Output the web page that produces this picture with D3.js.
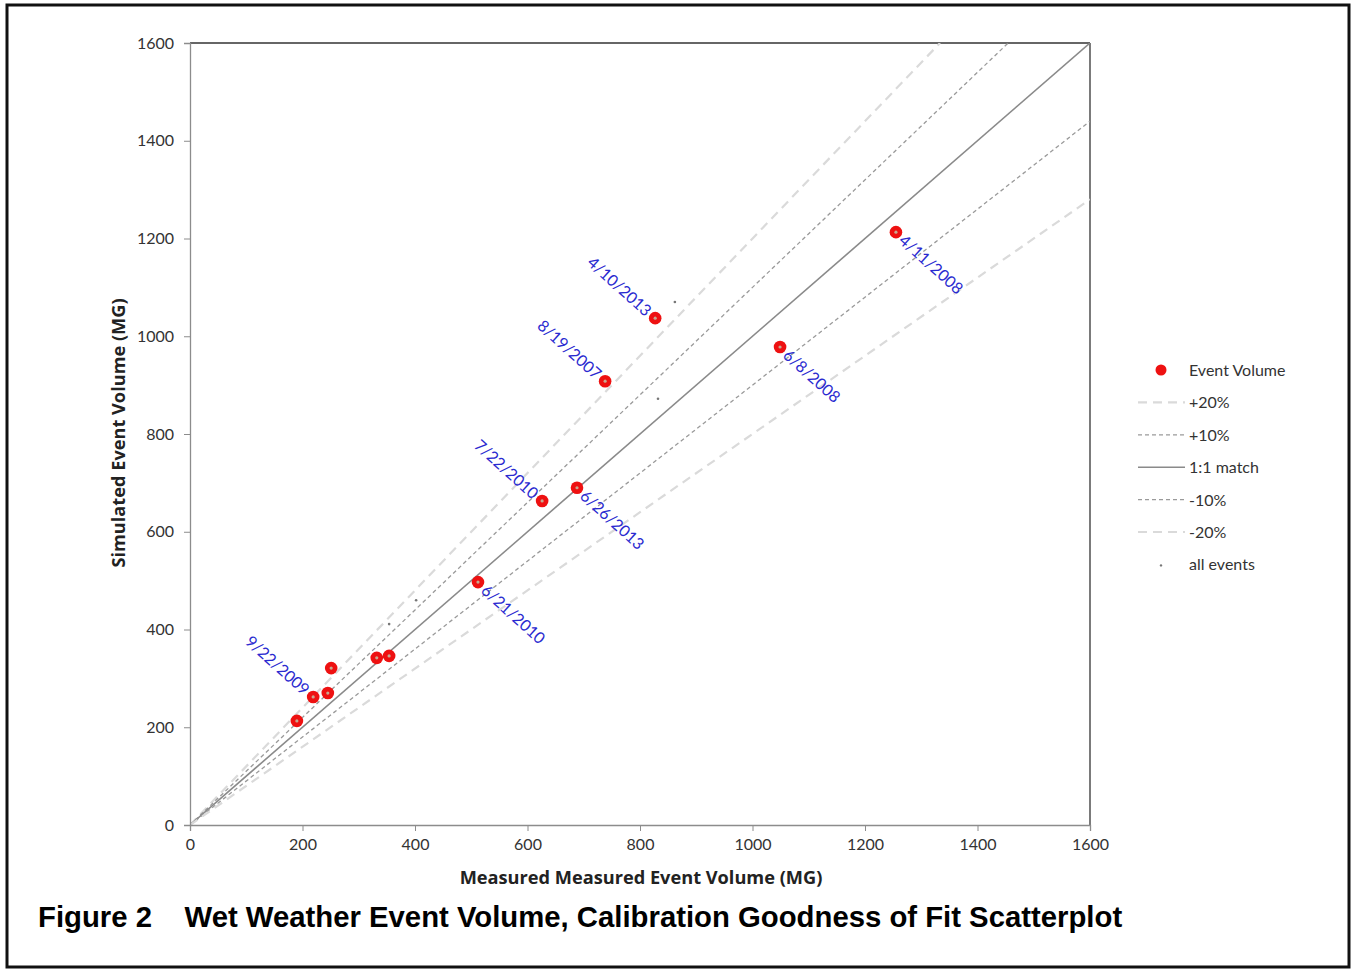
<!DOCTYPE html>
<html>
<head>
<meta charset="utf-8">
<script src="https://cdn.jsdelivr.net/npm/d3@7"></script>
<style>
  html, body { margin: 0; padding: 0; background: #fff; }
  svg { display: block; }
</style>
</head>
<body>
<svg id="chart" width="1354" height="970"></svg>
<script>
// Calibration events: measured vs simulated volume (MG)
const eventMeasured  = [190, 219, 245, 251, 332, 354, 512, 626, 688, 738, 827, 1049, 1255];
const eventSimulated = [213, 262, 270, 321, 342, 346, 497, 663, 690, 908, 1037, 978, 1213];
const eventLabels    = ["", "9/22/2009", "", "", "", "", "6/21/2010", "7/22/2010", "6/26/2013", "8/19/2007", "4/10/2013", "6/8/2008", "4/11/2008"];
const labelSide      = ["", "before", "", "", "", "", "after", "before", "after", "before", "before", "after", "after"];

// Additional events (small markers) not highlighted as calibration events
const otherMeasured  = [354, 402, 832, 862];
const otherSimulated = [411, 460, 872, 1070];

// Reference lines: ratio of simulated to measured
const refNames  = ["+20%", "+10%", "1:1 match", "-10%", "-20%"];
const refRatios = [1.2, 1.1, 1.0, 0.9, 0.8];

const axisTicks = [0, 200, 400, 600, 800, 1000, 1200, 1400, 1600];

const svg = d3.select("#chart");
const W = 1354, H = 970;
const plot = { left: 190, top: 43, width: 900, height: 782 };

svg.append("rect").attr("x", 0).attr("y", 0).attr("width", W).attr("height", H).attr("fill", "#fff");
// figure frame
svg.append("rect").attr("x", 7).attr("y", 5).attr("width", 1342).attr("height", 962)
  .attr("fill", "none").attr("stroke", "#111").attr("stroke-width", 3);

const x = d3.scaleLinear().domain([0, 1600]).range([plot.left, plot.left + plot.width]);
const y = d3.scaleLinear().domain([0, 1600]).range([plot.top + plot.height, plot.top]);

const tickFont = "Lato, 'Noto Sans', sans-serif";
const titleFont = "'Open Sans', 'Noto Sans', sans-serif";

const refStyle = {
  "+20%":      { stroke: "#dadada", width: 2.2, dash: "9,6" },
  "+10%":      { stroke: "#9a9a9a", width: 1.3, dash: "4,3" },
  "1:1 match": { stroke: "#8a8a8a", width: 1.6, dash: null },
  "-10%":      { stroke: "#9a9a9a", width: 1.3, dash: "4,3" },
  "-20%":      { stroke: "#dadada", width: 2.2, dash: "9,6" }
};

// Plot frame (top and right)
svg.append("line").attr("x1", x(0)).attr("x2", x(1600)).attr("y1", y(1600)).attr("y2", y(1600))
  .attr("stroke", "#333").attr("stroke-width", 1.3);
svg.append("line").attr("x1", x(1600)).attr("x2", x(1600)).attr("y1", y(0)).attr("y2", y(1600))
  .attr("stroke", "#333").attr("stroke-width", 1.3);

// Reference lines, clipped to the plot box
svg.append("defs").append("clipPath").attr("id", "plotClip")
  .append("rect").attr("x", plot.left).attr("y", plot.top).attr("width", plot.width).attr("height", plot.height);
const refG = svg.append("g").attr("clip-path", "url(#plotClip)");
refNames.forEach((name, i) => {
  const r = refRatios[i];
  const xEnd = Math.min(1600, 1600 / r);
  const st = refStyle[name];
  refG.append("line")
    .attr("x1", x(0)).attr("y1", y(0))
    .attr("x2", x(xEnd)).attr("y2", y(xEnd * r))
    .attr("stroke", st.stroke).attr("stroke-width", st.width)
    .attr("stroke-dasharray", st.dash);
});

// Axes
const xAxis = svg.append("g").attr("transform", `translate(0,${y(0)})`)
  .call(d3.axisBottom(x).tickValues(axisTicks).tickSize(6).tickPadding(8).tickFormat(d3.format("d")));
const yAxis = svg.append("g").attr("transform", `translate(${x(0)},0)`)
  .call(d3.axisLeft(y).tickValues(axisTicks).tickSize(6).tickPadding(10).tickFormat(d3.format("d")));
[xAxis, yAxis].forEach(g => {
  g.select(".domain").attr("stroke", "#8c8c8c").attr("stroke-width", 1.3);
  g.selectAll(".tick line").attr("stroke", "#8c8c8c");
  g.selectAll(".tick text").attr("fill", "#333").style("font-family", tickFont).style("font-size", "16px");
});

// Event points
const evG = svg.append("g");
eventMeasured.forEach((m, i) => {
  evG.append("circle").attr("cx", x(m)).attr("cy", y(eventSimulated[i])).attr("r", 6.3)
    .attr("fill", "#ee1111");
});

// All events (small markers)
const allM = eventMeasured.concat(otherMeasured);
const allS = eventSimulated.concat(otherSimulated);
allM.forEach((m, i) => {
  const isEvent = i < eventMeasured.length;
  svg.append("circle").attr("cx", x(m)).attr("cy", y(allS[i])).attr("r", isEvent ? 1.6 : 1.3)
    .attr("fill", isEvent ? "#c9a890" : "#777");
});

// Date labels
eventLabels.forEach((lab, i) => {
  if (!lab) return;
  const px = x(eventMeasured[i]), py = y(eventSimulated[i]);
  const before = labelSide[i] === "before";
  svg.append("text")
    .attr("transform", `translate(${px},${py}) rotate(42)`)
    .attr("x", before ? -8 : 8).attr("y", 6)
    .attr("text-anchor", before ? "end" : "start")
    .attr("fill", "#2a2ad0")
    .style("font-family", tickFont).style("font-size", "16px")
    .text(lab);
});

// Axis titles
svg.append("text").attr("x", 641).attr("y", 884).attr("text-anchor", "middle")
  .attr("fill", "#222").style("font-family", titleFont).style("font-weight", "700").style("font-size", "18.2px")
  .text("Measured Measured Event Volume (MG)");
svg.append("text").attr("transform", `translate(125,433) rotate(-90)`).attr("text-anchor", "middle")
  .attr("fill", "#222").style("font-family", titleFont).style("font-weight", "700").style("font-size", "18.2px")
  .text("Simulated Event Volume (MG)");

// Legend
const legend = svg.append("g");
const legendItems = ["Event Volume"].concat(refNames).concat(["all events"]);
const ly0 = 370, lstep = 32.4;
legendItems.forEach((name, i) => {
  const ly = ly0 + i * lstep;
  if (name === "Event Volume") {
    legend.append("circle").attr("cx", 1161).attr("cy", ly).attr("r", 5.5).attr("fill", "#ee1111");
  } else if (name === "all events") {
    legend.append("circle").attr("cx", 1161).attr("cy", ly + 1).attr("r", 1.2).attr("fill", "#777");
  } else {
    const st = refStyle[name];
    legend.append("line").attr("x1", 1138).attr("x2", 1185).attr("y1", ly).attr("y2", ly)
      .attr("stroke", st.stroke).attr("stroke-width", st.width).attr("stroke-dasharray", st.dash);
  }
  legend.append("text").attr("x", 1189).attr("y", ly + 6)
    .attr("fill", "#333").style("font-family", tickFont).style("font-size", "16px").text(name);
});

// Caption
svg.append("text").attr("x", 38).attr("y", 927)
  .attr("fill", "#000").style("font-family", "'Liberation Sans', Arial, sans-serif")
  .style("font-weight", "bold").style("font-size", "29.3px")
  .attr("xml:space", "preserve")
  .text("Figure 2    Wet Weather Event Volume, Calibration Goodness of Fit Scatterplot");
</script>
</body>
</html>
